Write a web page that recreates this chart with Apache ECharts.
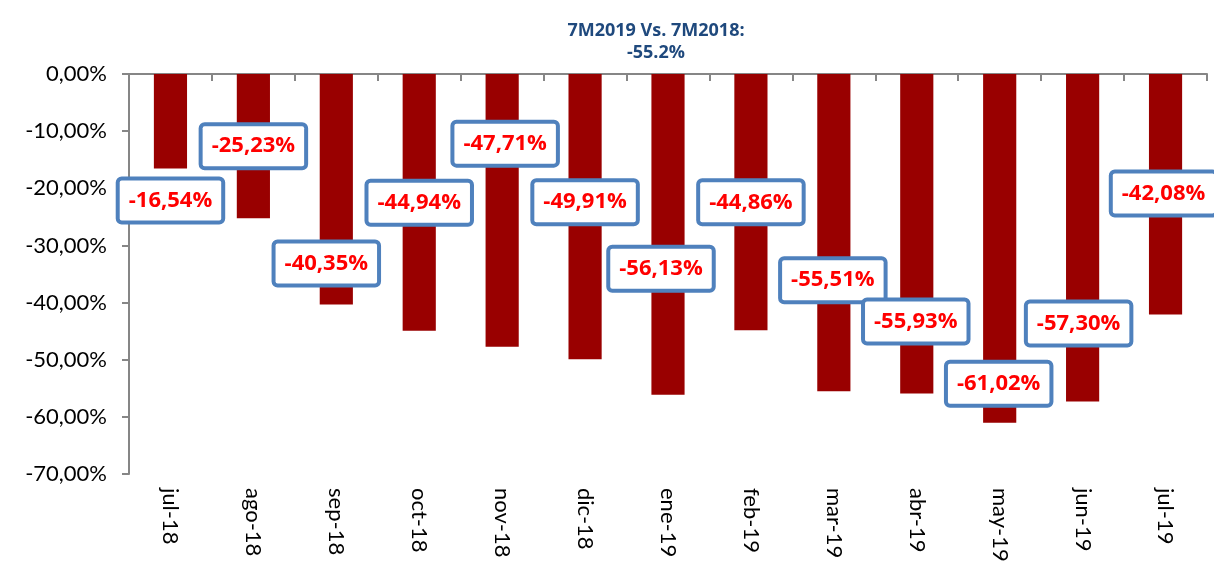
<!DOCTYPE html>
<html>
<head>
<meta charset="utf-8">
<script src="https://cdn.jsdelivr.net/npm/echarts@6/dist/echarts.min.js"></script>
<style>
html,body{margin:0;padding:0;background:#fff;}
#chart{width:1214px;height:571px;}
</style>
</head>
<body>
<div id="chart"></div>
<script>
const categories = ['jul-18','ago-18','sep-18','oct-18','nov-18','dic-18','ene-19','feb-19','mar-19','abr-19','may-19','jun-19','jul-19'];
const values = [-16.54,-25.23,-40.35,-44.94,-47.71,-49.91,-56.13,-44.86,-55.51,-55.93,-61.02,-57.30,-42.08];
const yTicks = [0,-10,-20,-30,-40,-50,-60,-70];
const titleLines = ['7M2019 Vs. 7M2018:','-55.2%'];
// label box offsets (pixels) relative to bar end
const labelOffsets = [[0,32],[0,-72],[-10,-41],[0,-128],[3,-203],[0,-157],[-7,-126],[0,-128],[-1,-111],[-1,-72],[-1,-39],[-4,-78],[-2,-121]];

const fmt = v => v.toFixed(2).replace('.', ',') + '%';
const chart = echarts.init(document.getElementById('chart'));
chart.setOption({
  backgroundColor: '#ffffff',
  animation: false,
  title: {
    text: titleLines.join('\n'),
    left: 651, top: 15, textAlign: 'center',
    textStyle: {fontFamily: 'Open Sans', fontWeight: 'bold', fontSize: 18, color: '#1F497D', lineHeight: 22}
  },
  grid: {left: 129, right: 7, top: 74, bottom: 97},
  xAxis: [{
    type: 'category', data: categories, position: 'bottom',
    axisLine: {onZero: true, lineStyle: {color: '#868686', width: 2}},
    axisTick: {show: true, length: 7, lineStyle: {color: '#868686', width: 2}},
    axisLabel: {show: false}
  }, {
    type: 'category', data: categories, position: 'bottom',
    axisLine: {show: false, onZero: false}, axisTick: {show: false},
    axisLabel: {rotate: -90, margin: 14, fontFamily: 'Lato', fontSize: 22, color: '#000'}
  }],
  yAxis: {
    type: 'value', min: Math.min(...yTicks), max: Math.max(...yTicks), interval: 10,
    axisLine: {show: true, lineStyle: {color: '#868686', width: 2}},
    axisTick: {show: true, length: 7, lineStyle: {color: '#868686', width: 2}},
    splitLine: {show: false},
    axisLabel: {formatter: fmt, margin: 22, fontFamily: 'Lato', fontSize: 22, color: '#000'}
  },
  series: [{
    type: 'bar', data: values, barWidth: '40%',
    itemStyle: {color: '#990000'}
  }, {
    type: 'scatter', xAxisIndex: 0,
    data: values.map((v, i) => ({value: v, label: {offset: labelOffsets[i]}})),
    symbolSize: 1, itemStyle: {color: 'rgba(0,0,0,0)', opacity: 1}, z: 5,
    emphasis: {disabled: true},
    label: {
      show: true, position: 'inside', formatter: p => fmt(p.value),
      fontFamily: 'Open Sans', fontWeight: 'bold', fontSize: 22, lineHeight: 24, color: '#FF0000', opacity: 1,
      backgroundColor: '#ffffff', borderColor: '#4F81BD', borderWidth: 4, borderRadius: 2,
      padding: [8, 9]
    }
  }]
});
</script>
</body>
</html>
